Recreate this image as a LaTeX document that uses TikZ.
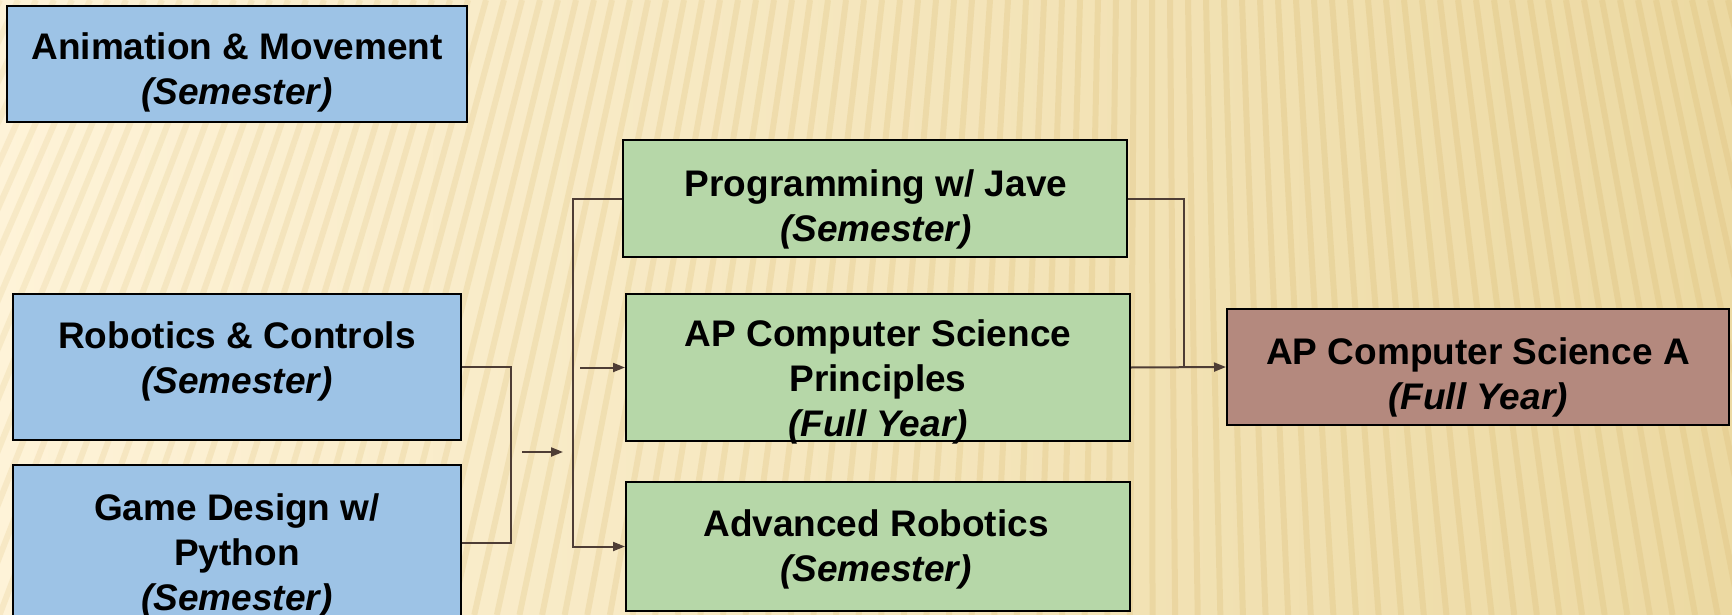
\documentclass[tikz,border=0pt]{standalone}
\usepackage{fontspec}
\setmainfont{Liberation Sans}
\usetikzlibrary{arrows.meta}
\definecolor{bgL}{HTML}{FEF3D8}
\definecolor{bgR}{HTML}{ECD9A2}
\definecolor{stripe}{HTML}{E2C888}
\definecolor{blueF}{HTML}{9DC3E6}
\definecolor{greenF}{HTML}{B6D7A8}
\definecolor{brownF}{HTML}{B4897E}
\definecolor{conn}{HTML}{4E3D35}
\begin{document}
\begin{tikzpicture}[x=1pt,y=-1pt,
  box/.style={draw=black, line width=2pt, inner sep=0pt},
  bluebox/.style={box, fill=blueF},
  greenbox/.style={box, fill=greenF},
  brownbox/.style={box, fill=brownF},
  lbl/.style={align=center, inner sep=0pt, font=\fontsize{37}{45}\selectfont\bfseries},
  link/.style={draw=conn, line width=2pt},
  arr/.style={link, -{Triangle[length=12pt,width=9pt]}}]
\useasboundingbox (0,0) rectangle (1732,615);
% background
\shade[left color=bgL, right color=bgR] (0,0) rectangle (1732,615);
\begin{scope}
\clip (0,0) rectangle (1732,615);
\foreach \i in {-20,...,110}{
  \pgfmathsetmacro{\xa}{\i*18}
  \pgfmathsetmacro{\xb}{\xa+(\xa-1150)*0.256}
  \pgfmathsetmacro{\op}{0.2+0.3*min(1,max(0,\xa/1700))}
  \draw[stripe, line width=6pt, opacity=\op] (\xa,0) -- (\xb,615);
}
\end{scope}
% boxes
\node[bluebox, minimum width=460pt, minimum height=116pt] (anim) at (237,64) {};
\node[bluebox, minimum width=448pt, minimum height=146pt] (rob) at (237,367) {};
\node[bluebox, minimum width=448pt, minimum height=155pt] (game) at (237,542.5) {};
\node[greenbox, minimum width=504pt, minimum height=117pt] (prog) at (875,198.5) {};
\node[greenbox, minimum width=504pt, minimum height=147pt] (apcsp) at (878,367.5) {};
\node[greenbox, minimum width=504pt, minimum height=129pt] (advrob) at (878,546.5) {};
\node[brownbox, minimum width=502pt, minimum height=116pt] (apcsa) at (1478,367) {};
% texts
\node[lbl] (animT) at (237,72.6) {Animation \& Movement\\\textit{(Semester)}};
\node[lbl] (robT) at (237,361) {Robotics \& Controls\\\textit{(Semester)}};
\node[lbl] (gameT) at (237,556) {Game Design w/\\Python\\\textit{(Semester)}};
\node[lbl] (progT) at (876,209) {Programming w/ Jave\\\textit{(Semester)}};
\node[lbl] (apcspT) at (878,382) {AP Computer Science\\Principles\\\textit{(Full Year)}};
\node[lbl] (advrobT) at (876,549) {Advanced Robotics\\\textit{(Semester)}};
\node[lbl] (apcsaT) at (1478,377) {AP Computer Science A\\\textit{(Full Year)}};
% connector helpers
\coordinate (jL) at (511,450);
\coordinate (a1) at (522,452);
\coordinate (a2) at (563,452);
\coordinate (jR) at (573,400);
\coordinate (m1) at (580,367.5);
\coordinate (jRR) at (1184,367.5);
% connectors
\draw[link] (rob.east) -| (jL) |- (game.east);
\draw[arr] (a1) -- (a2);
\draw[arr] (prog.west) -| (jR) |- (advrob.west);
\draw[arr] (m1) -- (apcsp.west);
\draw[link] (prog.east) -| (jRR);
\draw[arr] (apcsp.east) -- (apcsa.west);
\end{tikzpicture}
\end{document}
